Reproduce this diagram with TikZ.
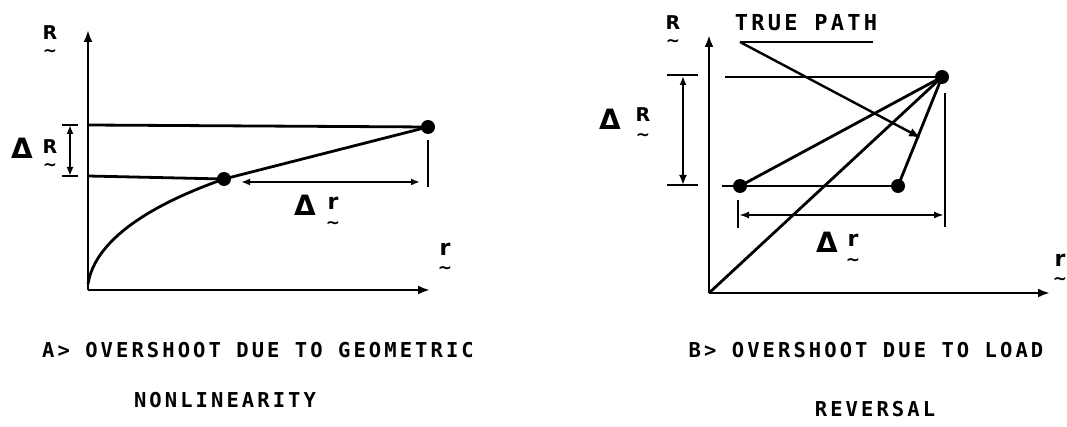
\documentclass[tikz,border=0pt]{standalone}
\usepackage{fontspec}
\usetikzlibrary{arrows.meta}
\newfontfamily\capfont[LetterSpace=15]{DejaVu Sans Mono}
\newfontfamily\lblfont{DejaVu Sans}
\tikzset{
  ln/.style={line width=2.8pt,black},
  axis/.style={line width=2.8pt,-{Latex[length=12pt,width=9pt]}},
  dot/.style={circle,fill=black,inner sep=0pt,minimum size=14pt},
  captext/.style={font=\capfont\bfseries\fontsize{20.5}{24}\selectfont,inner sep=0pt,anchor=base},
  lbl/.style={font=\lblfont\bfseries\fontsize{19}{22}\selectfont,inner sep=0pt,anchor=base},
  lblr/.style={font=\lblfont\bfseries\fontsize{22}{24}\selectfont,inner sep=0pt,anchor=base},
  tld/.style={font=\lblfont\bfseries\fontsize{17}{17}\selectfont,inner sep=0pt,anchor=center},
  dlt/.style={font=\lblfont\bfseries\fontsize{28}{30}\selectfont,inner sep=0pt,anchor=base},
  opendim/.style={line width=2pt,{Latex[open,length=9pt,width=7pt]}-{Latex[open,length=9pt,width=7pt]}},
  filldim/.style={line width=2pt,{Latex[length=10pt,width=7pt]}-{Latex[length=10pt,width=7pt]}},
  bar/.style={line width=2.8pt}
}
\begin{document}
\begin{tikzpicture}[x=1pt,y=-1pt]
\useasboundingbox (0,0) rectangle (1067,427);
% ---------- Left panel ----------
\coordinate (O1) at (88,290);
\coordinate (Y1) at (88,30);
\coordinate (X1) at (430,290);
\draw[axis] (O1) -- (Y1);
\draw[axis] (O1) -- (X1);
\node[dot] (P1) at (224,179) {};
\node[dot] (P2) at (428,127) {};
\coordinate (UL1) at (88,125);
\coordinate (LL1) at (88,176);
\draw[ln] (UL1) -- (P2.center);
\draw[ln] (LL1) -- (P1.center);
\draw[ln] (88,284) .. controls (95,240) and (150,205) .. (P1.center);
\draw[ln] (P1.center) -- (P2.center);
% Delta R dimension
\coordinate (dRa) at (70,125);
\coordinate (dRb) at (70,176);
\draw[opendim] (dRa) -- (dRb);
\draw[bar] (62,125) -- (78,125);
\draw[bar] (62,176) -- (78,176);
\node[dlt] (dR1d) at (22,159) {Δ};
\node[lbl] (dR1r) at (50,154) {R};
\node[tld] (dR1t) at (50,167) {\textasciitilde};
% Delta r dimension
\coordinate (dra) at (241,182);
\coordinate (drb) at (420,182);
\draw[opendim] (dra) -- (drb);
\coordinate (tk1a) at (428,140);
\coordinate (tk1b) at (428,187);
\draw[line width=2pt] (tk1a) -- (tk1b);
\node[dlt] (dr1d) at (305,216) {Δ};
\node[lblr] (dr1r) at (333,210) {r};
\node[tld] (dr1t) at (333,225) {\textasciitilde};
% axis labels
\node[lbl] (R1) at (50,40) {R};
\node[tld] (R1t) at (50,53) {\textasciitilde};
\node[lblr] (r1) at (445,256) {r};
\node[tld] (r1t) at (445,270) {\textasciitilde};
% captions
\node[captext] (capA1) at (258,357) {A> OVERSHOOT DUE TO GEOMETRIC};
\node[captext] (capA2) at (225,407) {NONLINEARITY};
% ---------- Right panel ----------
\coordinate (O2) at (709,293);
\coordinate (Y2) at (709,35);
\coordinate (X2) at (1050,293);
\draw[axis] (O2) -- (Y2);
\draw[axis] (O2) -- (X2);
\node[dot] (T) at (942,77) {};
\node[dot] (L) at (740,186) {};
\node[dot] (Rr) at (898,186) {};
\coordinate (UL2) at (725,77);
\coordinate (LL2) at (722,186);
\draw[ln] (UL2) -- (T.center);
\draw[ln] (LL2) -- (Rr.center);
\draw[ln] (L.center) -- (T.center);
\draw[ln] (O2) -- (T.center);
\draw[ln] (Rr.center) -- (T.center);
% true path
\node[captext,font=\capfont\bfseries\fontsize{22}{24}\selectfont] (tp) at (806,31) {TRUE PATH};
\coordinate (tpa) at (740,42);
\coordinate (tpb) at (873,42);
\draw[line width=2.4pt] (tpa) -- (tpb);
\coordinate (tpe) at (921,138);
\draw[line width=2.4pt,-{Latex[length=12pt,width=9pt]}] (tpa) -- (tpe);
% Delta R dimension
\coordinate (dR2a) at (683,76);
\coordinate (dR2b) at (683,185);
\draw[line width=2pt,{Latex[open,length=9pt,width=7pt]}-{Latex[length=10pt,width=8pt]}] (dR2a) -- (dR2b);
\draw[bar] (667,75) -- (698,75);
\draw[bar] (667,185) -- (698,185);
\node[dlt] (dR2d) at (610,130) {Δ};
\node[lbl] (dR2r) at (643,122) {R};
\node[tld] (dR2t) at (643,137) {\textasciitilde};
% right vertical line
\coordinate (vr1) at (945,93);
\coordinate (vr2) at (945,227);
\draw[line width=2pt] (vr1) -- (vr2);
% Delta r dimension
\coordinate (dr2a) at (739,215);
\coordinate (dr2b) at (944,215);
\draw[filldim] (dr2a) -- (dr2b);
\coordinate (tk2a) at (738,200);
\coordinate (tk2b) at (738,228);
\draw[line width=2.4pt] (tk2a) -- (tk2b);
\node[dlt] (dr2d) at (827,253) {Δ};
\node[lblr] (dr2r) at (853,247) {r};
\node[tld] (dr2t) at (853,262) {\textasciitilde};
% axis labels
\node[lbl] (R2) at (673,30) {R};
\node[tld] (R2t) at (673,43) {\textasciitilde};
\node[lblr] (r2) at (1060,267) {r};
\node[tld] (r2t) at (1060,281) {\textasciitilde};
% captions
\node[captext] (capB1) at (866,357) {B> OVERSHOOT DUE TO LOAD};
\node[captext] (capB2) at (875,416) {REVERSAL};
\end{tikzpicture}
\end{document}
